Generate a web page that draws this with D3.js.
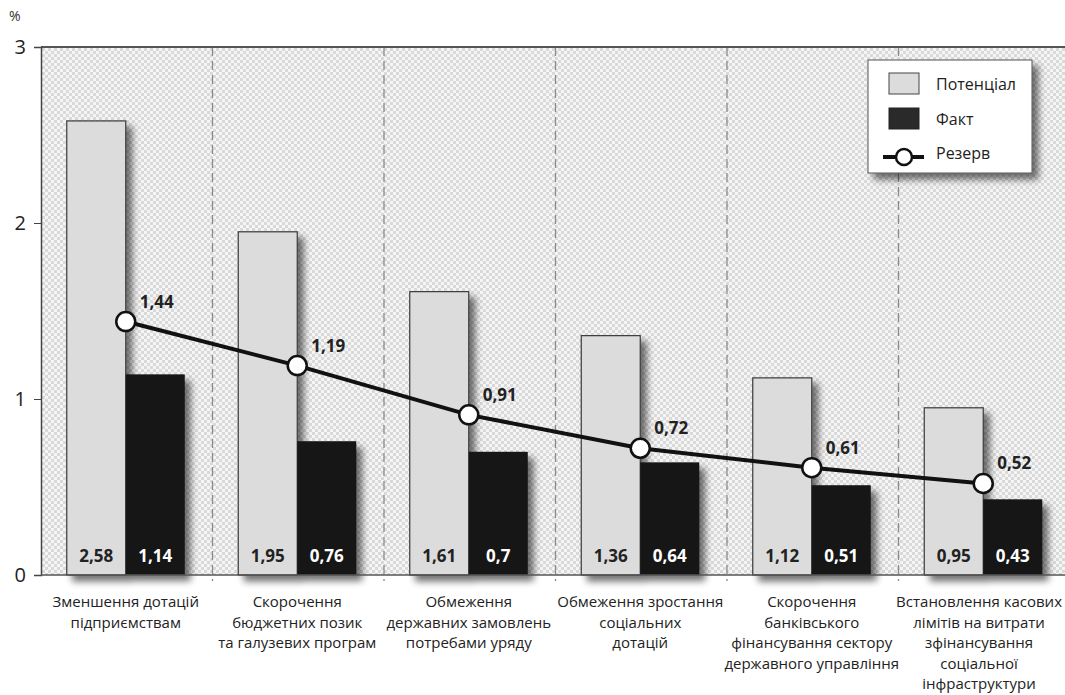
<!DOCTYPE html>
<html>
<head>
<meta charset="utf-8">
<script src="https://cdn.jsdelivr.net/npm/d3@7"></script>
<style>
  body { margin: 0; background: #fff; }
  svg { display: block; font-family: "Open Sans", "Noto Sans", sans-serif; }
</style>
</head>
<body>
<svg id="chart" width="1065" height="695"></svg>
<script>
// data
const categories = [
  ["Зменшення дотацій", "підприємствам"],
  ["Скорочення", "бюджетних позик", "та галузевих програм"],
  ["Обмеження", "державних замовлень", "потребами уряду"],
  ["Обмеження зростання", "соціальних", "дотацій"],
  ["Скорочення", "банківського", "фінансування сектору", "державного управління"],
  ["Встановлення касових", "лімітів на витрати", "зфінансування", "соціальної", "інфраструктури"]
];
const potential = [2.58, 1.95, 1.61, 1.36, 1.12, 0.95];
const fact = [1.14, 0.76, 0.7, 0.64, 0.51, 0.43];
const reserve = [1.44, 1.19, 0.91, 0.72, 0.61, 0.52];
const yTicks = [0, 1, 2, 3];
const legendNames = ["Потенціал", "Факт", "Резерв"];

const fmt = v => String(v).replace(".", ",");

var svg = d3.select("#chart");
var W = 1065;
var pLeft = 41, pRight = 1070, pTop = 47, pBottom = 575;

var x = d3.scaleBand().domain(d3.range(categories.length)).range([pLeft, pRight]);
var y = d3.scaleLinear().domain([0, 3]).range([pBottom, pTop]);
var barW = 59;

var defs = svg.append("defs");
var pat = defs.append("pattern").attr("id", "hatch").attr("patternUnits", "userSpaceOnUse")
  .attr("width", 6).attr("height", 6);
pat.append("rect").attr("width", 6).attr("height", 6).attr("fill", "#f5f5f5");
pat.append("rect").attr("width", 3).attr("height", 3).attr("fill", "#d9d9d9");
pat.append("rect").attr("x", 3).attr("y", 3).attr("width", 3).attr("height", 3).attr("fill", "#d9d9d9");

var sh = defs.append("filter").attr("id", "shadow").attr("x", "-20%").attr("y", "-20%").attr("width", "160%").attr("height", "160%");
sh.append("feGaussianBlur").attr("in", "SourceAlpha").attr("stdDeviation", 3.5);
sh.append("feOffset").attr("dx", 6).attr("dy", 6).attr("result", "b");
sh.append("feComponentTransfer").append("feFuncA").attr("type", "linear").attr("slope", 0.55);
var mg = sh.append("feMerge");
mg.append("feMergeNode");
mg.append("feMergeNode").attr("in", "SourceGraphic");

// plot background
svg.append("rect").attr("x", pLeft).attr("y", pTop).attr("width", pRight - pLeft).attr("height", pBottom - pTop)
  .attr("fill", "url(#hatch)");

// dashed category separators
svg.selectAll(".sep").data(d3.range(1, categories.length)).enter().append("line")
  .attr("x1", d => x(d)).attr("x2", d => x(d)).attr("y1", pTop).attr("y2", pBottom + 6)
  .attr("stroke", "#8a8a8a").attr("stroke-width", 1.3).attr("stroke-dasharray", "9,5");

// top border
svg.append("line").attr("x1", pLeft).attr("x2", pRight).attr("y1", pTop).attr("y2", pTop)
  .attr("stroke", "#555").attr("stroke-width", 2.2);

// bars
var cx = i => x(i) + x.bandwidth() / 2 - 1;
var g = svg.append("g").attr("filter", "url(#shadow)");
g.selectAll(".pot").data(potential).enter().append("rect")
  .attr("x", (d, i) => cx(i) - barW).attr("y", d => y(d)).attr("width", barW).attr("height", d => pBottom - y(d))
  .attr("fill", "#dcdcdc").attr("stroke", "#3a3a3a").attr("stroke-width", 1.2);
g.selectAll(".fact").data(fact).enter().append("rect")
  .attr("x", (d, i) => cx(i)).attr("y", d => y(d)).attr("width", barW).attr("height", d => pBottom - y(d))
  .attr("fill", "#161616");

// bar value labels
svg.selectAll(".potl").data(potential).enter().append("text")
  .attr("x", (d, i) => cx(i) - barW / 2).attr("y", pBottom - 13).attr("text-anchor", "middle")
  .attr("font-size", 17).attr("font-weight", "bold").attr("fill", "#222").text(d => fmt(d));
svg.selectAll(".factl").data(fact).enter().append("text")
  .attr("x", (d, i) => cx(i) + barW / 2).attr("y", pBottom - 13).attr("text-anchor", "middle")
  .attr("font-size", 17).attr("font-weight", "bold").attr("fill", "#fff").text(d => fmt(d));

// axes
svg.append("g").attr("transform", "translate(" + pLeft + ",0)")
  .call(d3.axisLeft(y).tickValues(yTicks).tickSize(7).tickFormat(d => d))
  .call(a => a.select(".domain").attr("stroke", "#444").attr("stroke-width", 1.5))
  .call(a => a.selectAll("line").attr("stroke", "#444"))
  .call(a => a.selectAll("text").attr("font-size", 20).attr("fill", "#222").attr("x", -15).attr("font-family", "Open Sans"));
svg.append("line").attr("x1", pLeft).attr("x2", pRight).attr("y1", pBottom).attr("y2", pBottom)
  .attr("stroke", "#555").attr("stroke-width", 1.5);
svg.append("text").attr("x", 9).attr("y", 21).attr("font-size", 14).attr("fill", "#333").text("%");

// reserve line
var line = d3.line().x((d, i) => cx(i)).y(d => y(d));
svg.append("path").datum(reserve).attr("d", line).attr("fill", "none").attr("stroke", "#111").attr("stroke-width", 4);
svg.selectAll(".dot").data(reserve).enter().append("circle")
  .attr("cx", (d, i) => cx(i)).attr("cy", d => y(d)).attr("r", 9.5)
  .attr("fill", "#fff").attr("stroke", "#111").attr("stroke-width", 2.5);
svg.selectAll(".resl").data(reserve).enter().append("text")
  .attr("x", (d, i) => cx(i) + 14).attr("y", d => y(d) - 14)
  .attr("font-size", 17).attr("font-weight", "bold").attr("fill", "#222").text(d => fmt(d));

// category labels (kept inside the page at the right edge)
svg.selectAll(".cat").data(categories).enter().append("text")
  .attr("text-anchor", "middle").attr("font-size", 15).attr("fill", "#222")
  .each(function(d, i) {
    var t = d3.select(this);
    t.selectAll("tspan").data(d).enter().append("tspan")
      .attr("x", cx(i)).attr("y", (s, j) => 607 + j * 20.6).text(s => s);
    var half = 0;
    t.selectAll("tspan").each(function() { half = Math.max(half, this.getComputedTextLength() / 2); });
    var c = Math.min(cx(i), W - 3 - half);
    t.selectAll("tspan").attr("x", c);
  });

// legend
var lg = svg.append("g").attr("transform", "translate(868,60)");
lg.append("rect").attr("width", 164).attr("height", 113).attr("fill", "#fff")
  .attr("stroke", "#555").attr("stroke-width", 1).attr("filter", "url(#shadow)");
lg.append("rect").attr("x", 21).attr("y", 13).attr("width", 30).attr("height", 21)
  .attr("fill", "#dcdcdc").attr("stroke", "#444");
lg.append("rect").attr("x", 21).attr("y", 48).attr("width", 30).attr("height", 21)
  .attr("fill", "#2a2a2a").attr("stroke", "#222");
lg.append("line").attr("x1", 15).attr("x2", 56).attr("y1", 97).attr("y2", 97).attr("stroke", "#111").attr("stroke-width", 4);
lg.append("circle").attr("cx", 36).attr("cy", 97).attr("r", 8).attr("fill", "#fff").attr("stroke", "#111").attr("stroke-width", 2.5);
lg.selectAll(".ln").data(legendNames).enter().append("text")
  .attr("x", 68).attr("y", (d, i) => 30 + i * 34.5).attr("font-size", 16).attr("fill", "#222").text(d => d);
</script>
</body>
</html>
